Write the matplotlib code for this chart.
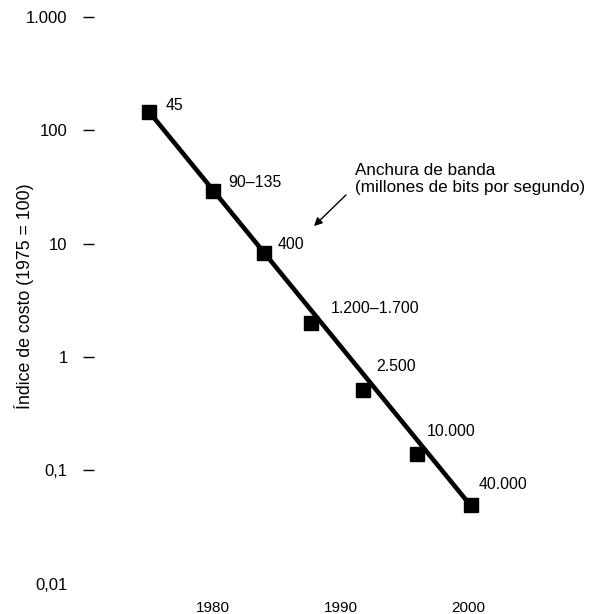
import numpy as np
import matplotlib
matplotlib.use('Agg')
import matplotlib.pyplot as plt

plt.rcParams['font.family'] = ['Liberation Sans', 'DejaVu Sans']

years = [1975, 1980, 1984, 1987.7, 1991.8, 1996, 2000.2]
cost_index = [145, 29, 8.3, 2.0, 0.51, 0.14, 0.049]
bandwidth = ['45', '90–135', '400', '1.200–1.700', '2.500', '10.000', '40.000']

ytick_vals = [1000, 100, 10, 1, 0.1, 0.01]
ytick_labels = ['1.000', '100', '10', '1', '0,1', '0,01']
xtick_vals = [1980, 1990, 2000]

# label offsets in points (dx, dy) from each square
label_offsets = [(12, 5), (11, 6), (10, 6), (14, 10), (9, 17), (7, 16), (6, 15)]

fig = plt.figure(figsize=(5.89, 6.14), dpi=100)
ax = fig.add_axes([94 / 589, 1 - 590 / 614, 1 - 94 / 589, 590 / 614])

ax.set_yscale('log')
ax.set_xlim(1970.667, 2009.49)
ax.set_ylim(10 ** -2.056, 10 ** 3.150)

# trend line from first to last observation
ax.plot([years[0], years[-1]], [cost_index[0], cost_index[-1]],
        color='black', lw=3.3, solid_capstyle='butt', zorder=2)
ax.plot(years, cost_index, 's', color='black', markersize=10, zorder=3)

for x, y, txt, off in zip(years, cost_index, bandwidth, label_offsets):
    ax.annotate(txt, (x, y), xytext=off, textcoords='offset points',
                fontsize=11.4, ha='left', va='center')

for s in ax.spines.values():
    s.set_visible(False)

ax.set_yticks(ytick_vals)
ax.set_yticklabels(ytick_labels, fontsize=12)
ax.yaxis.set_minor_locator(matplotlib.ticker.NullLocator())
ax.tick_params(axis='y', direction='out', length=8, width=1, pad=11)
ax.yaxis.get_major_ticks()[-1].tick1line.set_visible(False)

ax.set_xticks(xtick_vals)
ax.set_xticklabels([str(v) for v in xtick_vals], fontsize=11)
ax.tick_params(axis='x', length=0, pad=8)

fig.text(24 / 589, 1 - 296 / 614, 'Índice de costo (1975 = 100)',
         rotation=90, ha='center', va='center', fontsize=12.8)

ax.annotate('', xy=(312 / 589, 1 - 228 / 614), xytext=(348 / 589, 1 - 193 / 614),
            xycoords='figure fraction', textcoords='figure fraction',
            arrowprops=dict(arrowstyle='-|>', color='black', lw=1, mutation_scale=12))
fig.text(355 / 589, 1 - 179 / 614, 'Anchura de banda\n(millones de bits por segundo)',
         ha='left', va='center', fontsize=12.3, linespacing=1.1)

fig.savefig('out.png', dpi=100)
